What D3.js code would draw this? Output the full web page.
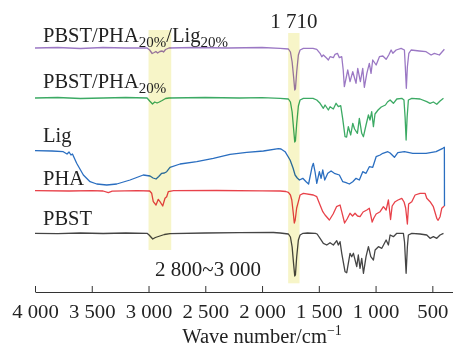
<!DOCTYPE html>
<html><head><meta charset="utf-8">
<script src="https://cdn.jsdelivr.net/npm/d3@7"></script>
<style>html,body{margin:0;padding:0;background:#fff;} svg{display:block;}</style>
</head><body><svg id="c" width="453" height="347"></svg>
<script>
// ---- data: [wave number (cm^-1), relative transmittance (a.u., offset per trace)] ----
const pbstPhaLig = [[4000,244],[3800,244.5],[3600,243.5],[3400,244.5],[3200,244],[3013,244],[2990,242],[2968,238.5],[2950,239.5],[2935,240.5],[2920,239],[2900,240.5],[2880,241],[2868,240],[2850,242.5],[2820,244],[2600,244.5],[2300,244],[2000,244.5],[1841,243.7],[1768,243],[1750,240],[1735,230],[1722,215],[1712,202],[1706,203],[1695,220],[1680,237],[1665,242],[1636,243.7],[1551,243.7],[1518,242.7],[1489,238.7],[1474,235.3],[1460,237],[1430,233.7],[1416,232],[1401,235.3],[1372,234.3],[1357,237.7],[1336,238.7],[1319,234.3],[1298,235.3],[1285,222],[1275,205.3],[1245,222],[1225,210.3],[1201,220.3],[1172,208.7],[1157,223.7],[1134,210.3],[1113,223.7],[1099,204.7],[1077,218.7],[1055,228.7],[1040,218.7],[1025,232],[995,227],[966,235.3],[936,236],[907,232.7],[884,237],[863,242],[848,238.7],[819,242],[775,243.7],[746,242],[738,225],[729,203.7],[720,225],[707,238.7],[687,242],[614,241],[555,240.3],[511,237],[482,238.7],[438,237],[394,242.7]];
const pbstPha = [[4000,194],[3800,194.5],[3600,193.5],[3400,194],[3200,194.5],[3013,194],[2990,191],[2965,188],[2945,190],[2925,189],[2905,190],[2880,191.5],[2850,193.5],[2820,194],[2500,194.5],[2200,194],[2000,194.3],[1841,193.7],[1768,193],[1750,190],[1735,180],[1722,163],[1712,150],[1706,151],[1695,168],[1680,186],[1665,192],[1636,193.7],[1551,193.7],[1518,192],[1489,188.7],[1460,183.7],[1445,187],[1416,182],[1401,185.3],[1372,183],[1348,188.7],[1328,185.3],[1307,186.3],[1290,173.7],[1269,155.3],[1255,155],[1240,165.3],[1219,157],[1201,168.7],[1185,163],[1160,158.7],[1143,173.7],[1122,158.7],[1107,155.3],[1084,167],[1063,177],[1049,172],[1034,180.3],[1019,165.3],[1005,178],[978,182],[950,185],[913,187],[895,190],[872,192],[843,188.7],[813,193],[769,193.7],[750,192],[740,175],[731,152],[722,175],[711,192],[681,193.7],[608,193],[549,190.3],[520,188.7],[491,190],[461,187.7],[432,191],[402,193.7]];
const lig = [[4000,141.3],[3850,141],[3751,140.3],[3718,138],[3700,140],[3683,137],[3670,138],[3633,128.7],[3574,117],[3515,110.3],[3456,108],[3368,107],[3280,108],[3163,112],[3046,117],[2987,116],[2960,114],[2934,113],[2910,115.5],[2884,118.7],[2860,119],[2840,120.3],[2811,124.7],[2722,128],[2575,130.3],[2429,133.7],[2282,137.7],[2135,139.7],[1988,141],[1856,143.3],[1833,143],[1797,140.3],[1753,132],[1727,124],[1709,117],[1690,114],[1671,112],[1641,113.7],[1612,110.3],[1590,108],[1559,125.3],[1548,128.7],[1533,120],[1518,108.7],[1495,120.3],[1480,113.7],[1465,122],[1448,112],[1421,118.7],[1392,121],[1363,118.7],[1319,117],[1289,110.3],[1260,109.3],[1231,108],[1201,110.3],[1172,113.7],[1143,112],[1113,120.3],[1084,118.7],[1055,125.3],[1025,124.7],[995,135.3],[960,137],[936,138.7],[892,140.3],[872,139],[834,134.7],[804,139.3],[746,140.3],[672,138.7],[555,138.7],[467,140.3],[408,143.7],[394,144.7],[393,86]];
const pha = [[4000,101.3],[3700,101],[3500,101.3],[3400,101],[3354,99.3],[3320,100.8],[3100,101.3],[2990,101],[2972,98.7],[2958,90.3],[2934,87],[2914,92.7],[2899,90.3],[2875,86],[2855,93.7],[2840,95.3],[2826,100.3],[2780,101.3],[2400,101.5],[2000,101.2],[1841,101],[1790,100.5],[1768,99.7],[1750,97],[1738,92],[1726,80],[1716,69],[1708,72],[1695,84],[1680,90.3],[1665,97],[1636,98.7],[1548,97],[1518,95.3],[1489,87],[1465,80.3],[1445,77],[1407,72],[1401,73],[1374,78],[1344,85.3],[1313,87],[1298,80.3],[1273,69],[1251,73],[1225,78.7],[1203,76],[1181,78.7],[1159,76],[1137,75.3],[1110,80],[1077,82],[1055,83.7],[1030,70],[1015,74],[995,78],[960,80.3],[931,85.3],[907,82],[887,92],[868,72.5],[854,86],[828,90.3],[802,92],[769,93.7],[749,90],[735,84],[720,68],[709,88],[681,90.3],[652,97],[608,98.7],[564,98.7],[549,93.7],[520,90.3],[491,85.3],[461,73.7],[449,71.7],[432,75.3],[417,83.7],[402,85.3],[394,86]];
const pbst = [[4000,58.7],[3800,58.3],[3600,59],[3400,58.5],[3200,59],[3013,58.7],[2995,57],[2963,53],[2940,54.5],[2900,56],[2860,57.5],[2811,58.3],[2500,59],[2200,59.3],[1900,59.5],[1841,59],[1768,58],[1750,55],[1735,45],[1722,28],[1712,16],[1706,17],[1695,35],[1680,52],[1665,57],[1639,58.7],[1600,59],[1530,58.7],[1515,58],[1489,53.7],[1460,48.7],[1430,47],[1401,49.3],[1372,47],[1342,51.3],[1328,47],[1313,50.3],[1298,38.7],[1269,20.3],[1254,19.3],[1225,38.7],[1210,35.3],[1195,38.7],[1166,25.3],[1152,37],[1137,23.7],[1122,33.7],[1107,18.7],[1084,35.3],[1063,45.3],[1042,35.3],[1019,32],[1004,42],[975,45.3],[945,43.7],[907,52],[887,47],[872,57],[843,55.3],[813,58.7],[755,58.7],[745,50],[731,18.7],[720,45],[711,57],[681,58.7],[608,58],[549,57],[520,53.7],[491,55.3],[461,53.7],[432,57],[402,58.7]];

const seriesNames = ["PBST/PHA20%/Lig20%","PBST/PHA20%","Lig","PHA","PBST"];
const seriesData = [pbstPhaLig, pbstPha, lig, pha, pbst];
const seriesColors = ["#9b78c4","#3caa64","#2a6ec0","#e8424a","#454545"];
const labelLevels = [250, 204, 150, 107, 67];   // label baseline heights (a.u.)
const xTicks = [4000,3500,3000,2500,2000,1500,1000,500];
const bandRanges = [[3000,2800],[1770,1670]];
const bandExtents = [[42,262],[8.7,259]];
const bandNotes = ["2 800~3 000","1 710"];
const bandNoteLevels = [16, 263.7];

// ---- drawing ----
const svg = d3.select("#c");
const x = d3.scaleLinear().domain([4000,318]).range([35,453]);
const y = d3.scaleLinear().domain([0,270]).range([292,22]);
const line = d3.line().x(d=>x(d[0])).y(d=>y(d[1]));

const FONT = "'Liberation Serif','Times New Roman',serif";

svg.append("g").selectAll("path").data(seriesData).join("path")
  .attr("d", line).attr("fill","none")
  .attr("stroke",(d,i)=>seriesColors[i]).attr("stroke-width",1.3)
  .attr("stroke-linejoin","round");

svg.append("g").selectAll("rect").data(bandRanges).join("rect")
  .attr("x", d=>x(d[0])).attr("width", d=>x(d[1])-x(d[0]))
  .attr("y",(d,i)=>y(bandExtents[i][1])).attr("height",(d,i)=>y(bandExtents[i][0])-y(bandExtents[i][1]))
  .attr("fill","#f7f5c8").style("mix-blend-mode","multiply");

function stretch(sel,k){ sel.each(function(){ const L=this.getComputedTextLength(); d3.select(this).attr("textLength",L*k).attr("lengthAdjust","spacingAndGlyphs"); }); }

// axis
const loc = d3.formatLocale({decimal:".", thousands:" ", grouping:[3], currency:["",""]});
const fmt = loc.format(",");
const ax = svg.append("g").attr("transform","translate(0,292)")
  .call(d3.axisBottom(x).tickValues(xTicks).tickFormat(fmt).tickSizeInner(-6).tickSizeOuter(0));
ax.select(".domain").attr("stroke","#333");
ax.selectAll(".tick line").attr("stroke","#333");
ax.selectAll(".tick text").attr("y",26).attr("dy",0).attr("fill","#222")
  .style("font-family",FONT).style("font-size","18px");
stretch(ax.selectAll(".tick text"),1.15);

// axis title
const t = svg.append("text").attr("x",262).attr("y",343).attr("text-anchor","middle")
  .style("font-family",FONT).style("font-size","20.5px").attr("fill","#222");
t.append("tspan").text("Wave number/cm");
t.append("tspan").text("\u22121").attr("dy",-8).style("font-size","14px");

// series labels
seriesNames.forEach((name,i)=>{
  const tx = svg.append("text").attr("x",43).attr("y",y(labelLevels[i]))
    .style("font-family",FONT).style("font-size","20.5px").attr("fill","#222");
  const parts = name.split(/(20%)/).filter(s=>s.length);
  let sub=false;
  parts.forEach(p=>{
    if(p==="20%"){ tx.append("tspan").text(p).attr("dy",4.5).style("font-size","15px"); sub=true; }
    else { tx.append("tspan").text(p).attr("dy", sub? -4.5:0); sub=false; }
  });
});

// band notes
bandNotes.forEach((s,i)=>{
  const r = bandRanges[i];
  const tx = svg.append("text").attr("x", i===0? 208 : x((r[0]+r[1])/2)).attr("y",y(bandNoteLevels[i]))
    .attr("text-anchor","middle").style("font-family",FONT).style("font-size","20px").attr("fill","#222").text(s);
  stretch(tx,1.05);
});
</script></body></html>
